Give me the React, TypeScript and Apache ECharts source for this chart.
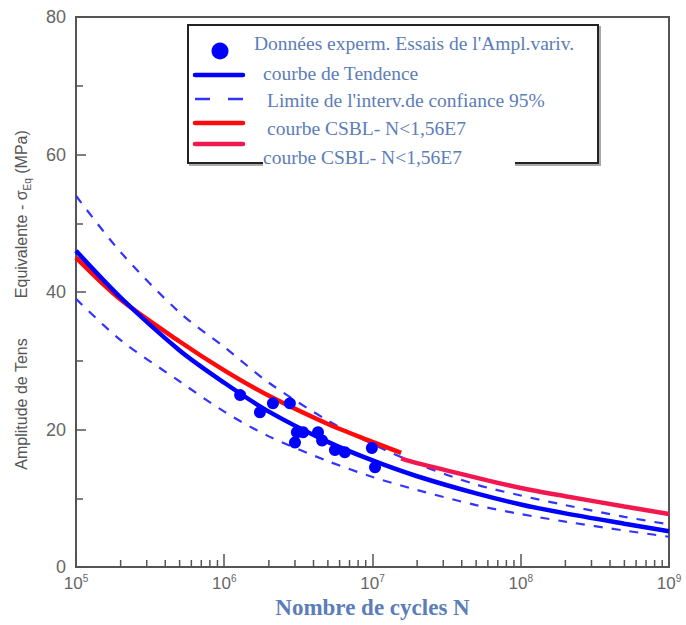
import React, { useEffect, useRef } from "react";
import * as echarts from "echarts";

// ---- data ----
const N_GRID = [1e5, 2e5, 5e5, 1e6, 2e6, 5e6, 1e7, 2e7, 5e7, 1e8, 2e8, 5e8, 1e9];
const TREND = [46, 39.2, 31.5, 26.8, 22.6, 18.2, 15.5, 13.2, 10.7, 9.1, 7.8, 6.3, 5.2];
const UPPER = [54, 45.8, 37.0, 32.0, 26.8, 21.3, 17.9, 15.0, 12.0, 10.4, 9.0, 7.3, 6.2];
const LOWER = [39, 33.0, 27.0, 22.6, 19.0, 15.4, 13.1, 11.2, 9.0, 7.7, 6.6, 5.3, 4.4];

const CSBL1_N = [1e5, 2e5, 5e5, 1e6, 2e6, 5e6, 1e7, 1.56e7];
const CSBL1_S = [45, 38.9, 32.8, 28.6, 24.9, 20.8, 18.2, 16.6];
const CSBL2_N = [1.56e7, 2e7, 5e7, 1e8, 2e8, 5e8, 1e9];
const CSBL2_S = [15.8, 15.1, 13.0, 11.5, 10.3, 8.8, 7.7];

const EXP_N = [1.28e6, 1.74e6, 2.13e6, 2.77e6, 3.0e6, 3.09e6, 3.4e6, 4.29e6, 4.57e6, 5.58e6, 6.5e6, 9.9e6, 1.04e7];
const EXP_S = [25.0, 22.5, 23.8, 23.8, 18.1, 19.6, 19.6, 19.6, 18.4, 17.0, 16.7, 17.3, 14.5];

const DECADES = [1e5, 1e6, 1e7, 1e8];
const MINOR_MULT = [2, 3, 4, 5, 6, 7, 8, 9];

const LEGEND_LABELS = [
  "Données experm. Essais de l'Ampl.variv.",
  "courbe de Tendence",
  "Limite de l'interv.de confiance 95%",
  "courbe CSBL- N<1,56E7",
  "courbe CSBL- N<1,56E7",
];

const BLUE = "#0000ff";
const DASH_BLUE = "#3333ff";
const RED = "#ff0a0a";
const PINK = "#f2184f";
const TXT_BLUE = "#5b7db8";

const zip = (xs: number[], ys: number[]) => xs.map((x, i) => [x, ys[i]]);

export default function App() {
  const ref = useRef<HTMLDivElement>(null);
  useEffect(() => {
    if (!ref.current) return;
    const chart = echarts.init(ref.current, null, { renderer: "svg" });
    const minorTicks: number[][] = [];
    DECADES.forEach((d) => MINOR_MULT.forEach((m) => minorTicks.push([d * m, 0])));

    const serif = '"Liberation Serif", "Times New Roman", serif';
    const sans = '"Liberation Sans", Arial, sans-serif';
    const legendFont = `19.5px ${serif}`;

    chart.setOption({
      animation: false,
      grid: {
        left: 76,
        top: 17,
        width: 593,
        height: 550,
        show: true,
        borderColor: "#555",
        borderWidth: 2,
        backgroundColor: "transparent",
      },
      xAxis: {
        type: "log",
        logBase: 10,
        min: 1e5,
        max: 1e9,
        splitLine: { show: false },
        axisLine: { show: true, lineStyle: { color: "#555", width: 2 } },
        axisTick: { show: true, inside: true, length: 13, lineStyle: { color: "#555", width: 1.5 } },
        axisLabel: {
          margin: 6,
          showMinLabel: true,
          showMaxLabel: true,
          formatter: (v: number) => `{b|10}{s|${Math.round(Math.log10(v))}}`,
          rich: {
            b: { fontSize: 17, fontFamily: sans, color: "#666", lineHeight: 20 },
            s: { fontSize: 10, fontFamily: sans, color: "#666", verticalAlign: "top" },
          },
        },
        name: "Nombre de cycles N",
        nameLocation: "middle",
        nameGap: 29,
        nameTextStyle: { fontFamily: serif, fontWeight: "bold", fontSize: 23, color: TXT_BLUE },
      },
      yAxis: {
        type: "value",
        min: 0,
        max: 80,
        interval: 20,
        splitLine: { show: false },
        axisLine: { show: true, lineStyle: { color: "#555", width: 2 } },
        axisTick: { show: true, inside: true, length: 10, lineStyle: { color: "#555", width: 1.5 } },
        minorTick: { show: true, splitNumber: 2, length: 7, lineStyle: { color: "#555", width: 1.5 } },
        axisLabel: { fontSize: 18, fontFamily: sans, color: "#666", margin: 10 },
        name: "{a|Amplitude de Tens}{g| }{a|Equivalente - σ}{sub|Eq}{a| (MPa)}",
        nameLocation: "middle",
        nameGap: 44,
        nameTextStyle: {
          padding: [0, 16, 0, 0],
          rich: {
            a: { fontSize: 16, fontFamily: sans, color: "#555", lineHeight: 22 },
            g: { fontSize: 16, width: 40 },
            sub: { fontSize: 10, fontFamily: sans, color: "#555", verticalAlign: "bottom" },
          },
        },
      },
      series: [
        {
          type: "custom",
          name: "minorTicks",
          data: minorTicks,
          silent: true,
          renderItem: (params: any, api: any) => {
            const p = api.coord([api.value(0), 0]);
            return {
              type: "line",
              shape: { x1: p[0], y1: p[1], x2: p[0], y2: p[1] - 7 },
              style: { stroke: "#555", lineWidth: 1.5 },
            };
          },
          z: 1,
        },
        {
          type: "line",
          data: zip(N_GRID, UPPER),
          smooth: 0.3,
          showSymbol: false,
          lineStyle: { color: DASH_BLUE, width: 2.2, type: [9, 9] },
          z: 2,
        },
        {
          type: "line",
          data: zip(N_GRID, LOWER),
          smooth: 0.3,
          showSymbol: false,
          lineStyle: { color: DASH_BLUE, width: 2.2, type: [9, 9] },
          z: 2,
        },
        {
          type: "line",
          data: zip(CSBL1_N, CSBL1_S),
          smooth: 0.3,
          showSymbol: false,
          lineStyle: { color: RED, width: 4.5 },
          z: 3,
        },
        {
          type: "line",
          data: zip(CSBL2_N, CSBL2_S),
          smooth: 0.3,
          showSymbol: false,
          lineStyle: { color: PINK, width: 4.5 },
          z: 3,
        },
        {
          type: "line",
          data: zip(N_GRID, TREND),
          smooth: 0.3,
          showSymbol: false,
          lineStyle: { color: BLUE, width: 4.5 },
          z: 4,
        },
        {
          type: "scatter",
          data: zip(EXP_N, EXP_S),
          symbol: "circle",
          symbolSize: 12,
          itemStyle: { color: BLUE, opacity: 1 },
          z: 5,
        },
      ],
      graphic: [
        { type: "rect", shape: { x: 190, y: 27, width: 410, height: 138 }, style: { fill: "none", stroke: "#aaa", lineWidth: 2 }, z: 10 },
        { type: "rect", shape: { x: 188, y: 25, width: 410, height: 138 }, style: { fill: "#fff", stroke: "#222", lineWidth: 2 }, z: 11 },
        { type: "rect", shape: { x: 263, y: 155, width: 252, height: 14 }, style: { fill: "#fff" }, z: 12 },
        { type: "circle", shape: { cx: 220, cy: 51, r: 8.5 }, style: { fill: BLUE }, z: 13 },
        { type: "line", shape: { x1: 195, y1: 75, x2: 243, y2: 75 }, style: { stroke: BLUE, lineWidth: 4.5, lineCap: "round" }, z: 13 },
        { type: "line", shape: { x1: 195, y1: 99, x2: 243, y2: 99 }, style: { stroke: DASH_BLUE, lineWidth: 2.5, lineDash: [15, 18] }, z: 13 },
        { type: "line", shape: { x1: 195, y1: 123, x2: 243, y2: 123 }, style: { stroke: RED, lineWidth: 4.5, lineCap: "round" }, z: 13 },
        { type: "line", shape: { x1: 195, y1: 144, x2: 243, y2: 144 }, style: { stroke: PINK, lineWidth: 4.5, lineCap: "round" }, z: 13 },
        { type: "text", x: 254, y: 43, style: { text: LEGEND_LABELS[0], fill: TXT_BLUE, font: legendFont, verticalAlign: "middle" }, z: 13 },
        { type: "text", x: 263, y: 73, style: { text: LEGEND_LABELS[1], fill: TXT_BLUE, font: legendFont, verticalAlign: "middle" }, z: 13 },
        { type: "text", x: 267, y: 100, style: { text: LEGEND_LABELS[2], fill: TXT_BLUE, font: legendFont, verticalAlign: "middle" }, z: 13 },
        { type: "text", x: 267, y: 128, style: { text: LEGEND_LABELS[3], fill: TXT_BLUE, font: legendFont, verticalAlign: "middle" }, z: 13 },
        { type: "text", x: 263, y: 157, style: { text: LEGEND_LABELS[4], fill: TXT_BLUE, font: legendFont, verticalAlign: "middle" }, z: 13 },
      ],
    });
    return () => chart.dispose();
  }, []);
  return (
    <div
      ref={ref}
      style={{ position: "fixed", left: 0, top: 0, width: 686, height: 625, background: "#fff" }}
    />
  );
}
